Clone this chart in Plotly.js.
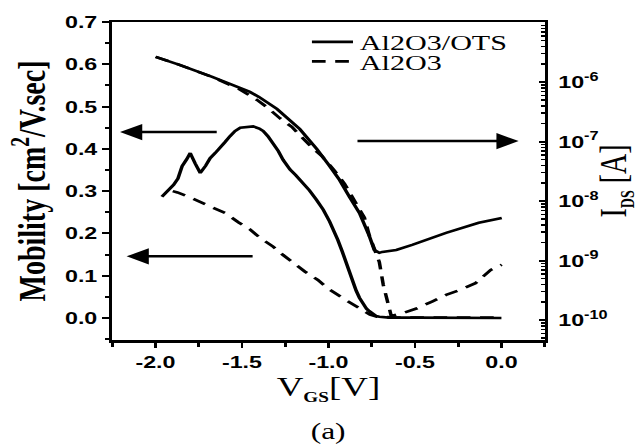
<!DOCTYPE html>
<html><head><meta charset="utf-8">
<script src="https://cdn.plot.ly/plotly-3.0.1.min.js"></script>
<style>
html,body{margin:0;padding:0;background:#fff;overflow:hidden;width:635px;height:448px;}
#chart{width:466px;height:448px;transform:scaleX(1.36853);transform-origin:0 0;}
</style></head><body>
<div id="chart"></div>
<script>
// ---- data ----
// Mobility, Al2O3/OTS (solid, left axis)
const vgsMobOts = [-1.963,-1.93,-1.895,-1.87,-1.846,-1.82,-1.799,-1.77,-1.741,-1.71,-1.684,-1.655,-1.626,-1.60,-1.569,-1.54,-1.51,-1.47,-1.435,-1.40,-1.377,-1.35,-1.32,-1.29,-1.262,-1.222,-1.19,-1.147,-1.11,-1.07,-1.03,-0.993,-0.965,-0.946,-0.92,-0.897,-0.878,-0.859,-0.84,-0.821,-0.802,-0.78,-0.763,-0.744,-0.725,-0.706,-0.687,-0.65,-0.5,-0.3,-0.1,0.0];
const mobOts = [0.287,0.300,0.315,0.330,0.359,0.375,0.390,0.365,0.343,0.360,0.378,0.390,0.402,0.415,0.430,0.442,0.450,0.452,0.453,0.448,0.442,0.430,0.414,0.395,0.374,0.351,0.338,0.319,0.302,0.280,0.256,0.228,0.205,0.185,0.157,0.130,0.106,0.082,0.065,0.048,0.035,0.022,0.016,0.010,0.005,0.003,0.002,0.001,0.001,0.001,0.001,0.0];
// Mobility, Al2O3 (dashed, left axis)
const vgsMobAl = [-1.90,-1.873,-1.80,-1.73,-1.662,-1.596,-1.519,-1.452,-1.394,-1.32,-1.262,-1.185,-1.137,-1.061,-1.003,-0.917,-0.85,-0.80,-0.76,-0.72,-0.6,-0.3,0.0];
const mobAl = [0.300,0.297,0.285,0.273,0.260,0.248,0.226,0.209,0.189,0.169,0.149,0.126,0.110,0.090,0.070,0.047,0.031,0.018,0.008,0.003,0.001,0.001,0.001];
// I_DS, Al2O3/OTS (solid, right axis)
const vgsIdsOts = [-1.999,-1.861,-1.672,-1.517,-1.454,-1.402,-1.298,-1.166,-1.068,-0.994,-0.936,-0.879,-0.821,-0.764,-0.735,-0.706,-0.689,-0.608,-0.516,-0.320,-0.131,0.002];
const idsOts = [2.65e-6,1.95e-6,1.22e-6,8.0e-7,6.84e-7,5.64e-7,3.55e-7,1.63e-7,7.53e-8,3.91e-8,2.27e-8,1.18e-8,6.34e-9,2.60e-9,1.51e-9,1.35e-9,1.40e-9,1.51e-9,1.84e-9,2.92e-9,4.31e-9,5.22e-9];
// I_DS, Al2O3 (dashed, right axis)
const vgsIdsAl = [-1.999,-1.861,-1.672,-1.517,-1.413,-1.350,-1.281,-1.212,-1.148,-1.091,-1.039,-0.964,-0.907,-0.850,-0.792,-0.763,-0.729,-0.706,-0.683,-0.660,-0.637,-0.573,-0.487,-0.401,-0.320,-0.236,-0.150,-0.062,0.002];
const idsAl = [2.65e-6,1.95e-6,1.22e-6,7.69e-7,5.02e-7,3.68e-7,2.47e-7,1.77e-7,1.14e-7,7.74e-8,5.75e-8,3.22e-8,1.95e-8,1.01e-8,5.25e-9,2.60e-9,1.51e-9,9.5e-10,3.9e-10,2.19e-10,1.17e-10,1.30e-10,1.58e-10,2.05e-10,2.65e-10,3.24e-10,4.17e-10,6.97e-10,8.5e-10];

const seriesNames = ['Al2O3/OTS','Al2O3'];
const xTickVals = [-2.0,-1.5,-1.0,-0.5,0.0];
const xTickText = ['-2.0','-1.5','-1.0','-0.5','0.0'];
const yTickVals = [0.0,0.1,0.2,0.3,0.4,0.5,0.6,0.7];
const yTickText = ['0.0','0.1','0.2','0.3','0.4','0.5','0.6','0.7'];
const y2TickVals = [1e-10,1e-9,1e-8,1e-7,1e-6];
const y2TickText = ['10<sup>-10</sup>','10<sup>-9</sup>','10<sup>-8</sup>','10<sup>-7</sup>','10<sup>-6</sup>'];

// ---- axis configuration helpers ----
const xMinor = [-2.25,-1.75,-1.25,-0.75,-0.25,0.25];
const yMinor = [-0.05,0.05,0.15,0.25,0.35,0.45,0.55,0.65];
const y2Minor = [];
for (let e = -11; e <= -5; e++) for (let k = 2; k <= 9; k++) y2Minor.push(k * Math.pow(10, e));

const serif = 'Liberation Serif, Times New Roman, serif';
const sans = 'Liberation Sans, Arial, sans-serif';
const lw = 2.6;
const subStyle = 'font-size:14px;font-weight:bold';

const traces = [
  {x: vgsMobOts, y: mobOts, type:'scatter', mode:'lines', name: seriesNames[0],
   line:{color:'#000', width:lw}, legend:'legend', yaxis:'y'},
  {x: vgsMobAl, y: mobAl, type:'scatter', mode:'lines', name: seriesNames[1],
   line:{color:'#000', width:lw, dash:'10px,7px'}, legend:'legend2', yaxis:'y'},
  {x: vgsIdsOts, y: idsOts, type:'scatter', mode:'lines', name: seriesNames[0],
   line:{color:'#000', width:lw}, showlegend:false, yaxis:'y2'},
  {x: vgsIdsAl, y: idsAl, type:'scatter', mode:'lines', name: seriesNames[1],
   line:{color:'#000', width:lw, dash:'10px,7px'}, showlegend:false, yaxis:'y2'}
];

const tickFont = {family: sans, size: 17, color:'#000', weight:'bold'};

const layout = {
  width: 466, height: 448,
  margin: {l: 81.8, r: 67.8, t: 22, b: 108, pad: 0},
  paper_bgcolor:'#fff', plot_bgcolor:'#fff',
  showlegend: true,
  xaxis: {
    range: [-2.25, 0.25], tickmode:'array', tickvals: xTickVals, ticktext: xTickText,
    showgrid:false, zeroline:false, showline:true, linecolor:'#000', linewidth:2.5, mirror:true,
    ticks:'outside', ticklen:5, tickwidth:2, tickcolor:'#000',
    minor:{tickmode:'array', tickvals:xMinor, ticks:'outside', ticklen:4, tickwidth:2, tickcolor:'#000'},
    tickfont: tickFont,
    title:{text:'V<sub><span style="' + subStyle + '">GS</span></sub>[V]', font:{family: serif, size:27, color:'#000'}, standoff: 6}
  },
  yaxis: {
    range: [-0.052, 0.7], tickmode:'array', tickvals: yTickVals, ticktext: yTickText,
    showgrid:false, zeroline:false, showline:true, linecolor:'#000', linewidth:2.5,
    ticks:'outside', ticklen:5, tickwidth:2, tickcolor:'#000',
    minor:{tickmode:'array', tickvals:yMinor, ticks:'outside', ticklen:3, tickwidth:2, tickcolor:'#000'},
    tickfont: tickFont,
    title:{text:'Mobility [cm<sup>2</sup>/V.sec]', font:{family: serif, size:28, color:'#000', weight:'bold'}, standoff: 6}
  },
  yaxis2: {
    type:'log', range:[-10.335, -4.99], overlaying:'y', side:'right',
    tickmode:'array', tickvals: y2TickVals, ticktext: y2TickText,
    showgrid:false, zeroline:false, showline:true, linecolor:'#000', linewidth:2.5,
    ticks:'inside', ticklen:4, tickwidth:2, tickcolor:'#000',
    minor:{tickmode:'array', tickvals:y2Minor, ticks:'inside', ticklen:2.5, tickwidth:1.5, tickcolor:'#000'},
    tickfont: tickFont, ticklabelstandoff: 4,
    title:{text:'I<sub><span style="' + subStyle + '">DS</span></sub> [A]', font:{family: serif, size:28, color:'#000'}, standoff: 11}
  },
  legend: {x:0.446, y:0.937, xanchor:'left', yanchor:'middle', bgcolor:'rgba(0,0,0,0)', borderwidth:0,
           font:{family: serif, size:22, color:'#000'}},
  legend2: {x:0.446, y:0.8755, xanchor:'left', yanchor:'middle', bgcolor:'rgba(0,0,0,0)', borderwidth:0,
           font:{family: serif, size:22, color:'#000'}},
  annotations: [
    {x:-2.205, y:0.4397, ax:-1.634, ay:0.4397, xref:'x', yref:'y', axref:'x', ayref:'y', text:'',
     showarrow:true, arrowhead:2, arrowsize:1.3, arrowwidth:2.5, arrowcolor:'#000'},
    {x:-2.167, y:0.1458, ax:-1.4265, ay:0.1458, xref:'x', yref:'y', axref:'x', ayref:'y', text:'',
     showarrow:true, arrowhead:2, arrowsize:1.3, arrowwidth:2.5, arrowcolor:'#000'},
    {x:0.0995, y:0.4183, ax:-0.844, ay:0.4183, xref:'x', yref:'y', axref:'x', ayref:'y', text:'',
     showarrow:true, arrowhead:2, arrowsize:1.3, arrowwidth:2.5, arrowcolor:'#000'},
    {x:0.499, y:-0.289, xref:'paper', yref:'paper', text:'(a)', showarrow:false,
     xanchor:'center', yanchor:'middle', font:{family: serif, size:23, color:'#000'}}
  ]
};

Plotly.newPlot('chart', traces, layout, {staticPlot:true, displayModeBar:false, responsive:false});
</script>
</body></html>
